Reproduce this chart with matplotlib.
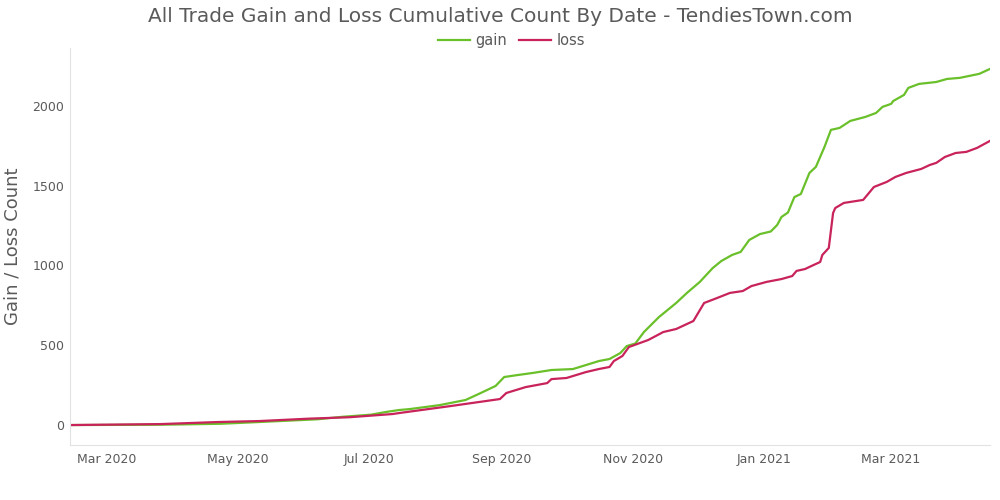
import pandas as pd
import matplotlib.pyplot as plt
import matplotlib.dates as mdates

# cumulative counts
gain_dates = ["2020-02-13", "2020-03-26", "2020-04-23", "2020-05-11", "2020-06-07",
              "2020-06-19", "2020-07-02", "2020-07-09", "2020-07-15", "2020-07-20",
              "2020-08-03", "2020-08-15", "2020-08-21", "2020-08-29", "2020-09-02",
              "2020-09-08", "2020-09-15", "2020-09-24", "2020-10-04", "2020-10-10",
              "2020-10-16", "2020-10-21", "2020-10-26", "2020-10-29", "2020-11-02",
              "2020-11-06", "2020-11-13", "2020-11-21", "2020-11-26", "2020-12-02",
              "2020-12-08", "2020-12-12", "2020-12-17", "2020-12-21", "2020-12-25",
              "2020-12-30", "2021-01-04", "2021-01-07", "2021-01-09", "2021-01-12",
              "2021-01-15", "2021-01-18", "2021-01-22", "2021-01-25", "2021-01-29",
              "2021-02-01", "2021-02-05", "2021-02-10", "2021-02-17", "2021-02-22",
              "2021-02-25", "2021-03-01", "2021-03-02", "2021-03-07", "2021-03-09",
              "2021-03-14", "2021-03-22", "2021-03-27", "2021-04-02", "2021-04-11",
              "2021-04-16"]
gain = [0, 2, 8, 19, 36, 52, 65, 82, 94, 100,
        125, 157, 194, 245, 301, 313, 326, 345, 351, 376,
        401, 414, 451, 495, 511, 583, 677, 765, 828, 897,
        984, 1028, 1066, 1085, 1160, 1197, 1213, 1254, 1304, 1332,
        1429, 1448, 1580, 1618, 1743, 1850, 1862, 1906, 1931, 1956,
        1994, 2013, 2031, 2069, 2113, 2138, 2150, 2169, 2176, 2201,
        2232]

loss_dates = ["2020-02-13", "2020-03-26", "2020-04-22", "2020-05-11", "2020-06-03",
              "2020-06-22", "2020-07-12", "2020-07-15", "2020-08-08", "2020-08-31",
              "2020-09-03", "2020-09-12", "2020-09-22", "2020-09-24", "2020-10-01",
              "2020-10-10", "2020-10-16", "2020-10-21", "2020-10-23", "2020-10-27",
              "2020-10-30", "2020-11-08", "2020-11-15", "2020-11-21", "2020-11-29",
              "2020-12-04", "2020-12-10", "2020-12-16", "2020-12-22", "2020-12-26",
              "2021-01-02", "2021-01-09", "2021-01-14", "2021-01-16", "2021-01-20",
              "2021-01-22", "2021-01-27", "2021-01-28", "2021-01-31", "2021-02-02",
              "2021-02-03", "2021-02-07", "2021-02-16", "2021-02-21", "2021-02-27",
              "2021-03-03", "2021-03-08", "2021-03-15", "2021-03-19", "2021-03-22",
              "2021-03-26", "2021-03-31", "2021-04-05", "2021-04-10", "2021-04-16"]
loss = [0, 6, 19, 25, 40, 49, 69, 75, 119, 163,
        201, 238, 263, 288, 295, 332, 351, 364, 401, 433,
        489, 533, 583, 602, 652, 765, 796, 828, 840, 871,
        897, 915, 934, 966, 978, 991, 1022, 1066, 1110, 1329,
        1360, 1392, 1411, 1492, 1524, 1555, 1580, 1605, 1630, 1643,
        1680, 1705, 1712, 1737, 1781]

gain_dates = pd.to_datetime(gain_dates)
loss_dates = pd.to_datetime(loss_dates)

txt = '#5a5a5a'
fig = plt.figure(figsize=(10, 5), dpi=100)
ax = fig.add_axes([0.07, 0.11, 0.92, 0.794])

ax.plot(gain_dates, gain, color='#6ac02a', lw=1.6, label='gain')
ax.plot(loss_dates, loss, color='#c8235a', lw=1.6, label='loss')

ax.set_xlim(gain_dates[0], gain_dates[-1])
ax.set_ylim(-125, 2363)
ax.set_yticks([0, 500, 1000, 1500, 2000])
ax.xaxis.set_major_locator(mdates.MonthLocator(bymonth=[1, 3, 5, 7, 9, 11]))
ax.xaxis.set_major_formatter(mdates.DateFormatter('%b %Y'))
ax.tick_params(length=0, labelsize=9, colors=txt)
ax.tick_params(axis='y', pad=4)
ax.tick_params(axis='x', pad=6)

for s in ['top', 'right']:
    ax.spines[s].set_visible(False)
for s in ['left', 'bottom']:
    ax.spines[s].set_color('#e2e2e2')

ax.set_ylabel('Gain / Loss Count', fontsize=13, color=txt, va='center')
ax.yaxis.set_label_coords(-0.062, 0.5)
fig.suptitle('All Trade Gain and Loss Cumulative Count By Date - TendiesTown.com',
             fontsize=14.5, color=txt, y=0.985)
ax.legend(loc='lower center', bbox_to_anchor=(0.48, 0.985), ncol=2, frameon=False,
          fontsize=10.5, labelcolor=txt, handlelength=2.2, handletextpad=0.4,
          columnspacing=0.8, borderaxespad=0)

fig.savefig('out.png')
